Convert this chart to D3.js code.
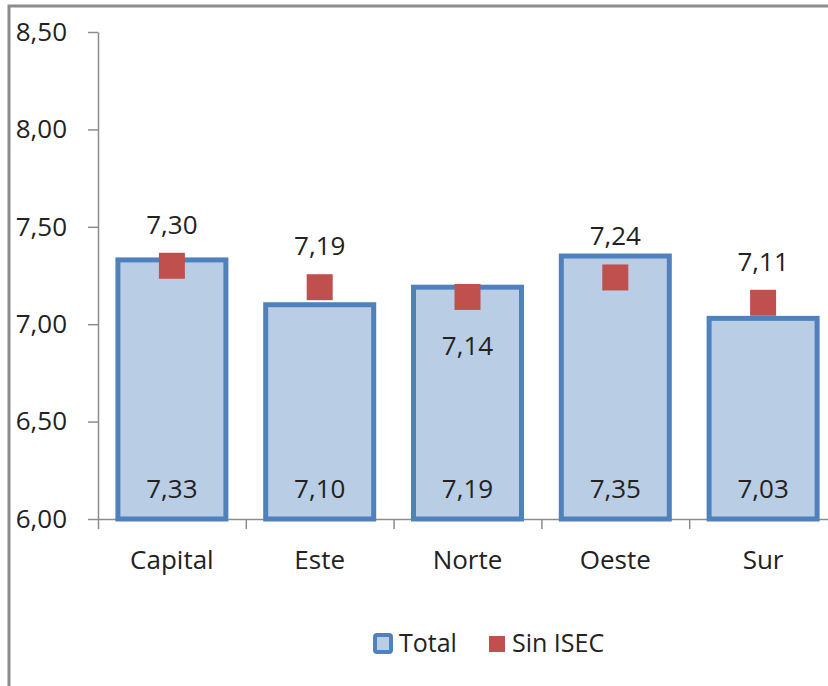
<!DOCTYPE html>
<html lang="es">
	<head>
		<meta charset="UTF-8">
		<title>Total / Sin ISEC</title>
		<script src="https://cdnjs.cloudflare.com/ajax/libs/d3/7.8.5/d3.min.js"></script>
		<style>
			body { margin: 0; background: #fff; }
			text { font-family: "Open Sans", sans-serif; fill: #222; }
		</style>
		<script>
var categories = ["Capital", "Este", "Norte", "Oeste", "Sur"];
var totalValues = [7.33, 7.10, 7.19, 7.35, 7.03];
var sinIsecValues = [7.30, 7.19, 7.14, 7.24, 7.11];
var sinIsecLabelPos = ["above", "above", "below", "above", "above"];
var yTicks = [6.00, 6.50, 7.00, 7.50, 8.00, 8.50];
var seriesNames = ["Total", "Sin ISEC"];

function makeChart() {
	var svg = d3.select("svg");
	var fmt = d => d.toFixed(2).replace(".", ",");

	// outer frame (only left and top edges visible)
	svg.append("path")
		.attr("d", "M9,686 V6 H828")
		.attr("fill", "none")
		.attr("stroke", "#8c8c8c")
		.attr("stroke-width", 3);

	var scX = d3.scaleBand()
		.domain(categories)
		.range([98, 837]);

	var scY = d3.scaleLinear()
		.domain([6, 8.5])
		.range([519, 32]);

	// y axis
	var yAxis = svg.append("g")
		.attr("transform", "translate(98,0)")
		.call(d3.axisLeft(scY).tickValues(yTicks).tickSize(10).tickSizeOuter(0).tickFormat(fmt));
	yAxis.select(".domain").attr("stroke", "#8c8c8c").attr("stroke-width", 1.5);
	yAxis.selectAll(".tick line").attr("stroke", "#8c8c8c").attr("stroke-width", 1.5);
	yAxis.selectAll(".tick text")
		.attr("x", -31)
		.attr("font-size", 26)
		.attr("fill", "#222");

	// x axis: ticks at category boundaries
	var scIdx = d3.scaleLinear().domain([0, categories.length]).range(scX.range());
	var xAxis = svg.append("g")
		.attr("transform", "translate(0,519)")
		.call(d3.axisBottom(scIdx).ticks(categories.length).tickSize(10).tickSizeOuter(0).tickFormat(""));
	xAxis.select(".domain").attr("stroke", "#8c8c8c").attr("stroke-width", 1.5);
	xAxis.selectAll(".tick line").attr("stroke", "#8c8c8c").attr("stroke-width", 1.5);

	svg.append("g")
		.selectAll("text")
		.data(categories)
		.enter()
		.append("text")
		.attr("x", d => scX(d) + scX.bandwidth() / 2)
		.attr("y", 569)
		.attr("text-anchor", "middle")
		.attr("font-size", 26)
		.text(d => d);

	// bars
	var barW = 108;
	svg.append("g")
		.selectAll("rect")
		.data(totalValues)
		.enter()
		.append("rect")
		.attr("x", (d, i) => scX(categories[i]) + scX.bandwidth() / 2 - barW / 2)
		.attr("y", d => scY(d))
		.attr("width", barW)
		.attr("height", d => scY(6) - scY(d))
		.attr("fill", "#b9cde5")
		.attr("stroke", "#4f81bd")
		.attr("stroke-width", 5);

	svg.append("g")
		.selectAll("text")
		.data(totalValues)
		.enter()
		.append("text")
		.attr("x", (d, i) => scX(categories[i]) + scX.bandwidth() / 2)
		.attr("y", 498)
		.attr("text-anchor", "middle")
		.attr("font-size", 26)
		.text(fmt);

	// markers
	var mk = 26;
	svg.append("g")
		.selectAll("rect")
		.data(sinIsecValues)
		.enter()
		.append("rect")
		.attr("x", (d, i) => scX(categories[i]) + scX.bandwidth() / 2 - mk / 2)
		.attr("y", d => scY(d) - mk / 2)
		.attr("width", mk)
		.attr("height", mk)
		.attr("fill", "#c0504d");

	svg.append("g")
		.selectAll("text")
		.data(sinIsecValues)
		.enter()
		.append("text")
		.attr("x", (d, i) => scX(categories[i]) + scX.bandwidth() / 2)
		.attr("y", (d, i) => sinIsecLabelPos[i] == "above" ? scY(d) - 32 : scY(d) + 58)
		.attr("text-anchor", "middle")
		.attr("font-size", 26)
		.text(fmt);

	// legend
	var lg = svg.append("g");
	lg.append("rect")
		.attr("x", 375).attr("y", 635)
		.attr("width", 16).attr("height", 17)
		.attr("rx", 2)
		.attr("fill", "#b9cde5")
		.attr("stroke", "#4f81bd")
		.attr("stroke-width", 4);
	lg.append("text")
		.attr("x", 399).attr("y", 652)
		.attr("font-size", 25)
		.text(seriesNames[0]);
	lg.append("rect")
		.attr("x", 489).attr("y", 636)
		.attr("width", 16).attr("height", 16)
		.attr("fill", "#c0504d");
	lg.append("text")
		.attr("x", 512).attr("y", 652)
		.attr("font-size", 25)
		.text(seriesNames[1]);
}
		</script>
	</head>
	<body onload="makeChart()">
		<svg width="828" height="686"></svg>
	</body>
</html>
